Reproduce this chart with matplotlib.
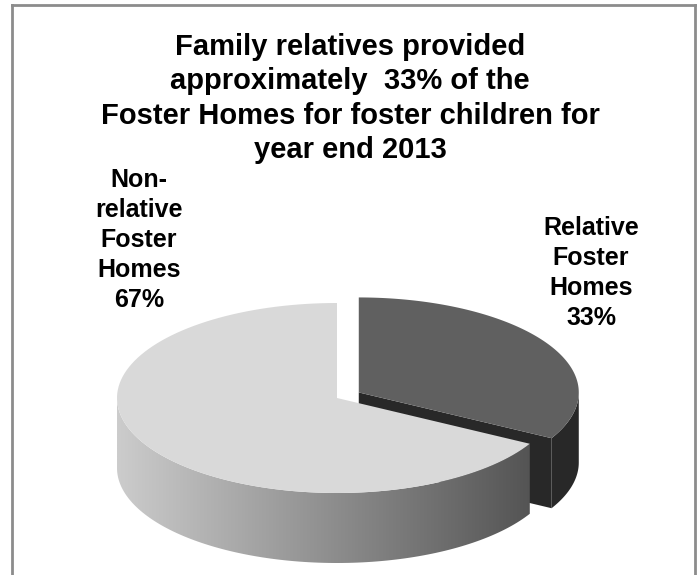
import numpy as np
import matplotlib.pyplot as plt
from matplotlib.patches import Polygon

plt.rcParams['font.family'] = ['Liberation Sans', 'DejaVu Sans']

title = ("Family relatives provided\napproximately  33% of the\n"
         "Foster Homes for foster children for\nyear end 2013")
categories = ['Relative\nFoster\nHomes', 'Non-\nrelative\nFoster\nHomes']
shares = [33, 67]
explode = [0.115, 0.0]
top_colors = ['#606060', '#d9d9d9']
side_colors = ['#282828', None]   # None -> shaded gradient
label_pos = [(591, 216), (139, 168)]

# pie geometry, in pixels
cx, cy = 337, 398
rx, ry = 220, 95
depth = 70

fig = plt.figure(figsize=(6.97, 5.75), dpi=100)
ax = fig.add_axes([0, 0, 1, 1])
ax.set_xlim(0, 697)
ax.set_ylim(575, 0)
ax.axis('off')


def arc(ox, oy, t0, t1, dz=0.0, n=120):
    t = np.radians(np.linspace(t0, t1, n))
    return np.column_stack([ox + rx * np.cos(t), oy - ry * np.sin(t) + dz])


def front_parts(lo, hi):
    parts = []
    for k in (-1, 0, 1):
        a, b = max(lo, -180 + 360 * k), min(hi, 360 * k)
        if b > a:
            parts.append((a, b))
    return parts


def gradient_fill(poly):
    grad = np.linspace(0.80, 0.30, 256)
    img = np.dstack([grad, grad, grad]).reshape(1, 256, 3)
    im = ax.imshow(img, extent=[cx - rx, cx + rx, cy + ry + depth + 5, cy - 5],
                   aspect='auto', interpolation='bilinear', zorder=poly.get_zorder())
    im.set_clip_path(poly)


total = sum(shares)
start = 90.0
slices = []
for v in shares:
    hi = start
    lo = start - 360.0 * v / total
    start = lo
    slices.append((lo, hi))

for i, (lo, hi) in enumerate(slices):
    mid = np.radians((lo + hi) / 2)
    ox = cx + rx * explode[i] * np.cos(mid)
    oy = cy - ry * explode[i] * np.sin(mid)
    z = 2 + i * 3
    wall_color = side_colors[i] or side_colors[0]

    # radial wall facing the viewer
    for ang, nrm in ((lo, lo - 90), (hi, hi + 90)):
        if np.sin(np.radians(nrm)) < -0.01:
            p = arc(ox, oy, ang, ang, n=1)[0]
            wall = [(ox, oy), tuple(p), (p[0], p[1] + depth), (ox, oy + depth)]
            ax.add_patch(Polygon(wall, closed=True, facecolor=wall_color,
                                 edgecolor='none', zorder=z))

    # outer rim
    for a, b in front_parts(lo, hi):
        top = arc(ox, oy, a, b)
        bot = arc(ox, oy, a, b, dz=depth)[::-1]
        pts = np.vstack([top, bot])
        if side_colors[i] is None:
            poly = Polygon(pts, closed=True, facecolor='none', edgecolor='none', zorder=z + 1)
            ax.add_patch(poly)
            gradient_fill(poly)
        else:
            ax.add_patch(Polygon(pts, closed=True, facecolor=side_colors[i],
                                 edgecolor='none', zorder=z + 1))

    # top face
    face = np.vstack([[ox, oy], arc(ox, oy, lo, hi), [ox, oy]])
    ax.add_patch(Polygon(face, closed=True, facecolor=top_colors[i],
                         edgecolor='none', zorder=z + 2))

    ax.text(label_pos[i][0], label_pos[i][1], f"{categories[i]}\n{shares[i]}%",
            ha='center', va='top', fontsize=18, fontweight='bold',
            linespacing=1.32, zorder=10)

ax.set_xlim(0, 697)
ax.set_ylim(575, 0)

ax.text(350, 33, title, ha='center', va='top', fontsize=21,
        fontweight='bold', linespacing=1.29)

# chart frame
frame = dict(color='#8c8c8c', lw=2, solid_capstyle='projecting')
ax.plot([12, 12], [5, 575], **frame)
ax.plot([12, 695], [5, 5], **frame)
ax.plot([695, 695], [5, 575], **frame)

fig.savefig('out.png', dpi=100)
